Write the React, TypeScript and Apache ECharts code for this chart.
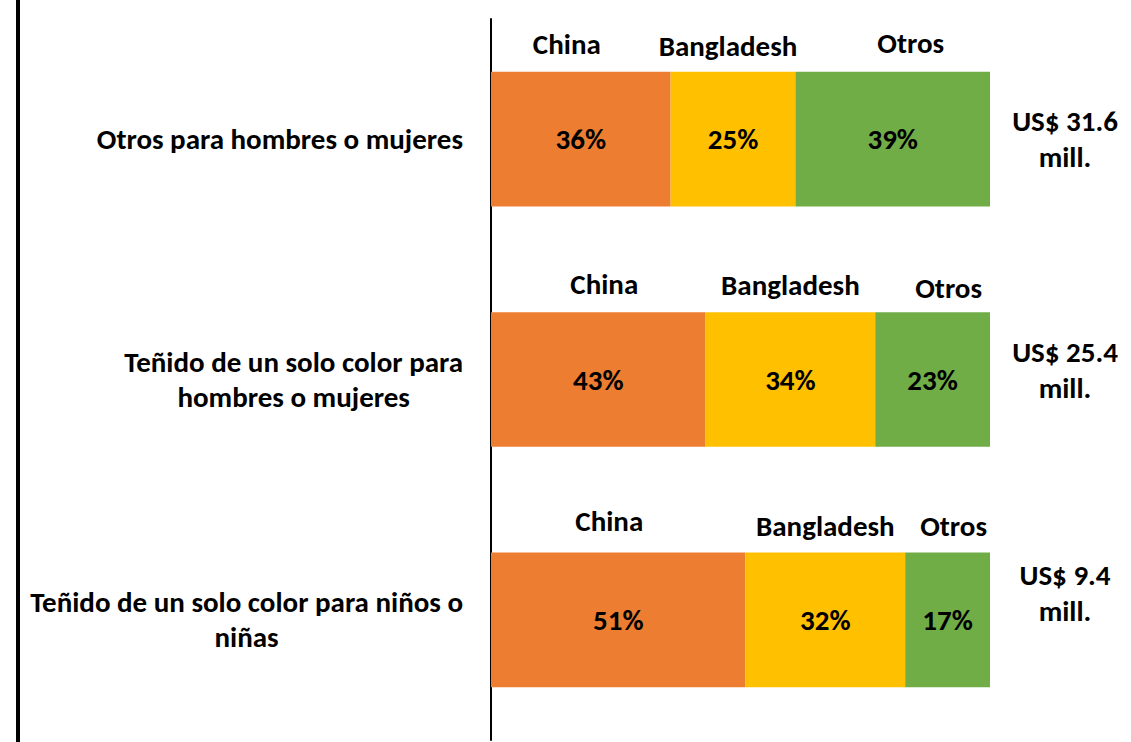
import React, { useEffect, useRef } from "react";
import * as echarts from "echarts";

const categories = [
  "Otros para hombres o mujeres",
  "Teñido de un solo color para\nhombres o mujeres",
  "Teñido de un solo color para niños o\nniñas",
];
const seriesNames = ["China", "Bangladesh", "Otros"];
const china = [36, 43, 51];
const bangladesh = [25, 34, 32];
const otros = [39, 23, 17];
const totals = ["US$ 31.6\nmill.", "US$ 25.4\nmill.", "US$ 9.4\nmill."];

const colors = ["#ED7D31", "#FFC000", "#70AD47"];
const FONT = "Carlito, Lato, sans-serif";
const FS = 29;
// label layout tweaks (pixel offsets, not data)
const nameOffsetsX = [
  [-14, -5, 18],
  [6, 0, 16],
  [-9, 0, 6],
];
const nameOffsetsY = [
  [-95, -93, -96],
  [-96, -95, -92],
  [-99, -94, -94],
];
const totalOffsetsY = [0, -10, -27];

export default function App() {
  const ref = useRef<HTMLDivElement>(null);
  useEffect(() => {
    if (!ref.current) return;
    const chart = echarts.init(ref.current, undefined, { renderer: "svg" });
    const values = [china, bangladesh, otros];

    const barSeries = values.map((vals, s) => ({
      name: seriesNames[s],
      type: "bar",
      stack: "total",
      barWidth: "56%",
      data: vals,
      itemStyle: { color: colors[s] },
      label: {
        show: true,
        position: "inside",
        formatter: "{c}%",
        color: "#000",
        fontFamily: FONT,
        fontWeight: "bold",
        fontSize: FS,
      },
    }));

    const nameSeries = values.map((vals, s) => ({
      name: seriesNames[s] + "-label",
      type: "scatter",
      symbolSize: 0,
      silent: true,
      itemStyle: { opacity: 1 },
      data: vals.map((v, i) => {
        let cum = 0;
        for (let k = 0; k < s; k++) cum += values[k][i];
        return {
          value: [cum + v / 2, i],
          label: { offset: [nameOffsetsX[i][s], nameOffsetsY[i][s]] },
        };
      }),
      label: {
        show: true,
        position: "inside",
        formatter: seriesNames[s],
        color: "#000",
        fontFamily: FONT,
        fontWeight: "bold",
        fontSize: FS,
      },
    }));

    const totalSeries = {
      name: "totals",
      type: "scatter",
      symbolSize: 0,
      silent: true,
      itemStyle: { opacity: 1 },
      data: totals.map((t, i) => ({
        value: [100, i],
        label: { offset: [75, totalOffsetsY[i]], formatter: t },
      })),
      label: {
        show: true,
        position: "inside",
        align: "center",
        color: "#000",
        fontFamily: FONT,
        fontWeight: "bold",
        fontSize: FS,
        lineHeight: 36,
      },
    };

    chart.setOption({
      animation: false,
      backgroundColor: "#fff",
      grid: { left: 491, right: 141, top: 19, bottom: 2, containLabel: false },
      xAxis: {
        type: "value",
        min: 0,
        max: 100,
        show: false,
      },
      yAxis: {
        type: "category",
        inverse: true,
        data: categories,
        axisLine: { show: true, lineStyle: { color: "#000", width: 2 } },
        axisTick: { show: false },
        splitLine: { show: false },
        axisLabel: {
          margin: 28,
          align: "right",
          formatter: (val: string) =>
            val
              .split("\n")
              .map((l) => "{a|" + l + "}")
              .join("\n"),
          rich: {
            a: {
              fontFamily: FONT,
              fontWeight: "bold",
              fontSize: FS,
              color: "#000",
              align: "center",
              lineHeight: 35,
            },
          },
        },
      },
      graphic: [
        {
          type: "rect",
          left: 16,
          top: 0,
          shape: { width: 4, height: 742 },
          style: { fill: "#000" },
        },
      ],
      series: [...barSeries, ...nameSeries, totalSeries],
    });
    return () => chart.dispose();
  }, []);
  return (
    <div
      ref={ref}
      style={{ position: "fixed", left: 0, top: 0, width: 1131, height: 742 }}
    />
  );
}
